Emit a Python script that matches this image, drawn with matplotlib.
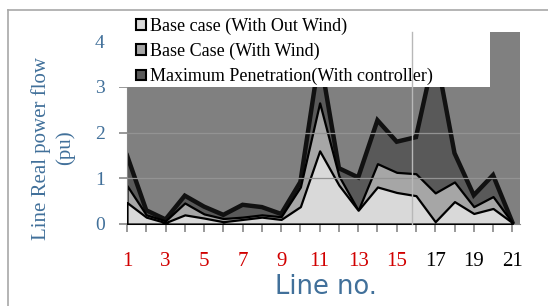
import matplotlib
matplotlib.use("Agg")
import matplotlib.pyplot as plt
from matplotlib.patches import Patch, Rectangle
from matplotlib.lines import Line2D

# ---- data ----
lines_no = list(range(1, 22))
base_no_wind = [0.47, 0.15, 0.03, 0.20, 0.13, 0.05, 0.10, 0.15, 0.10, 0.38, 1.60,
                0.85, 0.30, 0.81, 0.69, 0.62, 0.05, 0.49, 0.23, 0.34, 0.03]
base_wind = [0.84, 0.20, 0.07, 0.46, 0.22, 0.12, 0.15, 0.20, 0.16, 0.81, 2.65,
             1.05, 0.30, 1.32, 1.13, 1.10, 0.68, 0.92, 0.38, 0.60, 0.03]
max_pen = [1.50, 0.30, 0.10, 0.62, 0.38, 0.20, 0.42, 0.37, 0.22, 0.92, 3.70,
           1.22, 1.02, 2.27, 1.80, 1.90, 3.80, 1.55, 0.63, 1.07, 0.04]
legend_labels = ["Base case (With Out Wind)", "Base Case (With Wind)",
                 "Maximum Penetration(With controller)"]
y_ticks = [0, 1, 2, 3, 4]

W, H = 548, 306
serif = ["Liberation Serif", "DejaVu Serif"]
blue = "#41709a"
red = "#d10000"

fig = plt.figure(figsize=(W / 100, H / 100), dpi=100)
ax = fig.add_axes([127 / W, 1 - 224 / H, 393 / W, 192 / H])
ax.set_facecolor("#808080")
ax.set_xlim(1, 21.4)
ax.set_ylim(0, 4.2)

# grid lines (faint)
for g in [1, 2]:
    ax.axhline(g, color="#939393", lw=0.9, zorder=4)

ax.fill_between(lines_no, max_pen, 0, facecolor="#595959", edgecolor="none", zorder=1)
ax.plot(lines_no, max_pen, color="#111111", lw=3.2, zorder=1.5, solid_joinstyle="miter")
ax.fill_between(lines_no, base_wind, 0, facecolor="#a6a6a6", edgecolor="black", lw=1.6, zorder=2)
ax.fill_between(lines_no, base_no_wind, 0, facecolor="#d9d9d9", edgecolor="black", lw=1.6, zorder=3)

for s in ["top", "right"]:
    ax.spines[s].set_visible(False)
for s in ["left", "bottom"]:
    ax.spines[s].set_color("#888888")

ax.set_xticks(lines_no)
ax.set_xticklabels([str(i) if i % 2 == 1 else "" for i in lines_no],
                   fontfamily=serif, fontsize=15)
for i, lab in zip(lines_no, ax.get_xticklabels()):
    lab.set_color(red if i <= 15 else "black")
ax.tick_params(axis="x", length=6, pad=14, color="#888888", width=1.2)

ax.set_yticks(y_ticks)
ax.set_yticklabels([str(v) for v in y_ticks], fontfamily=serif, fontsize=14, color=blue)
ax.tick_params(axis="y", length=6, pad=10, color="#888888", width=1.2)

# white legend box
fig.add_artist(Rectangle((114 / W, 1 - 87 / H), (490 - 114) / W, 75 / H,
                         transform=fig.transFigure, facecolor="white",
                         edgecolor="none", zorder=1))
handles = [Patch(facecolor=c, edgecolor="black", lw=1.5)
           for c in ["#d9d9d9", "#a6a6a6", "#595959"]]
fig.legend(handles, legend_labels, loc="upper left",
           bbox_to_anchor=(133 / W, 1 - 14 / H), frameon=False,
           prop={"family": serif, "size": 13}, borderpad=0.18, borderaxespad=0,
           labelspacing=0.45, handlelength=0.55, handleheight=0.55,
           handletextpad=0.2)

# artifact vertical line and frame
fig.add_artist(Line2D([412 / W, 412 / W], [1 - 32 / H, 1 - 224 / H],
                      transform=fig.transFigure, color="#b8b8b8", lw=1, zorder=6))
fig.add_artist(Line2D([8 / W, 8 / W], [0, 1 - 10 / H],
                      transform=fig.transFigure, color="#a8a8a8", lw=1.2, zorder=6))
fig.add_artist(Line2D([8 / W, 1], [1 - 10 / H, 1 - 10 / H],
                      transform=fig.transFigure, color="#a8a8a8", lw=1.2, zorder=6))

fig.text(53 / W, 1 - 148 / H, "Line Real power flow\n(pu)", rotation=90,
         ha="center", va="center", multialignment="center",
         fontfamily=serif, fontsize=15, color=blue, linespacing=1.3)
fig.text(326 / W, 1 - 287 / H, "Line no.", ha="center", va="center",
         fontfamily="DejaVu Sans", fontsize=18.5, color=blue)

fig.savefig("out.png", dpi=100)
